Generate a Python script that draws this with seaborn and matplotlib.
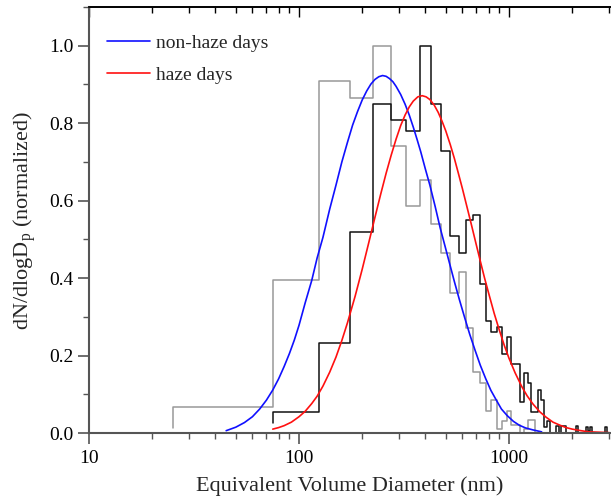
import numpy as np
import pandas as pd
import matplotlib
matplotlib.use("Agg")
import matplotlib.pyplot as plt
from matplotlib.ticker import MultipleLocator, FormatStrFormatter, LogLocator, NullFormatter
import seaborn as sns

# ---------------- data ----------------
bin_width = 50  # nm, linear bins
# non-haze days histogram (grey): bins start at 25 nm
nonhaze_start = 25
nonhaze_hist = [0.068, 0.394, 0.910, 0.866, 1.000, 0.742, 0.585, 0.652, 0.539, 0.464,
                0.361, 0.417, 0.270, 0.158, 0.128, 0.058, 0.085, 0.010, 0.030, 0.057,
                0.020, 0.020, 0.000, 0.010, 0.034, 0.034, 0.000, 0.000, 0.000, 0.000,
                0.000, 0.000, 0.000, 0.000, 0.000, 0.000, 0.000, 0.000, 0.000, 0.000,
                0.000, 0.000, 0.000, 0.000, 0.000, 0.000, 0.000, 0.000, 0.000, 0.000,
                0.000, 0.000, 0.000, 0.000, 0.000, 0.000, 0.000, 0.000, 0.000, 0.000]
nonhaze_stub = 0.013
# haze days histogram (black): bins start at 75 nm
haze_start = 75
haze_hist = [0.054, 0.233, 0.520, 0.849, 0.808, 0.781, 1.000, 0.849, 0.727, 0.509,
             0.466, 0.549, 0.562, 0.384, 0.288, 0.260, 0.275, 0.204, 0.249, 0.178,
             0.178, 0.081, 0.154, 0.129, 0.055, 0.055, 0.111, 0.085, 0.016, 0.032,
             0.000, 0.000, 0.017, 0.000, 0.017, 0.017, 0.000, 0.000, 0.000, 0.000,
             0.017, 0.000, 0.000, 0.000, 0.000, 0.015, 0.005, 0.015, 0.000, 0.000,
             0.000, 0.000, 0.000, 0.000, 0.000, 0.000, 0.015, 0.000, 0.000]
haze_stub = 0.027

# log-normal fit curves
nonhaze_fit_d = [45, 50, 55, 60, 65, 70, 75, 80, 85, 90, 95, 100, 107, 115, 122, 130,
                 140, 150, 160, 170, 180, 190, 200, 210, 220, 230, 240, 250, 260, 270,
                 280, 290, 305, 320, 335, 350, 365, 380, 400, 420, 445, 470, 495, 520,
                 550, 580, 615, 650, 690, 730, 775, 820, 870, 920, 980, 1050, 1120,
                 1200, 1300, 1430]
nonhaze_fit_v = [0.006, 0.015, 0.027, 0.042, 0.062, 0.085, 0.111, 0.140, 0.172, 0.205,
                 0.240, 0.278, 0.336, 0.394, 0.452, 0.505, 0.578, 0.640, 0.700, 0.750,
                 0.795, 0.830, 0.860, 0.883, 0.901, 0.913, 0.920, 0.923, 0.921, 0.915,
                 0.907, 0.895, 0.874, 0.849, 0.821, 0.790, 0.758, 0.726, 0.681, 0.640,
                 0.585, 0.530, 0.484, 0.440, 0.390, 0.345, 0.298, 0.255, 0.213, 0.175,
                 0.140, 0.110, 0.085, 0.062, 0.045, 0.030, 0.020, 0.013, 0.008, 0.003]
haze_fit_d = [75, 80, 85, 92, 100, 107, 115, 122, 130, 140, 150, 160, 170, 185, 200,
              215, 230, 245, 260, 275, 290, 305, 320, 335, 350, 368, 386, 403, 420,
              440, 460, 480, 500, 525, 550, 575, 600, 630, 660, 695, 730, 765, 800,
              850, 900, 950, 1000, 1070, 1150, 1220, 1300, 1400, 1500, 1620, 1750,
              1870, 2000, 2200, 2400, 2700, 3000]
haze_fit_v = [0.010, 0.014, 0.019, 0.028, 0.042, 0.056, 0.076, 0.095, 0.121, 0.157,
              0.196, 0.239, 0.284, 0.353, 0.423, 0.492, 0.557, 0.617, 0.671, 0.718,
              0.759, 0.794, 0.821, 0.842, 0.857, 0.868, 0.871, 0.868, 0.861, 0.847,
              0.828, 0.805, 0.780, 0.745, 0.708, 0.669, 0.631, 0.585, 0.541, 0.491,
              0.444, 0.400, 0.361, 0.309, 0.265, 0.226, 0.193, 0.155, 0.120, 0.096,
              0.075, 0.055, 0.041, 0.028, 0.020, 0.014, 0.010, 0.006, 0.003, 0.002,
              0.001]

legend_labels = ["non-haze days", "haze days"]
x_ticks = [10, 100, 1000]
y_ticks = [0.0, 0.2, 0.4, 0.6, 0.8, 1.0]


def step_frame(start, heights, stub):
    edges = [start + bin_width * i for i in range(len(heights) + 1)]
    xs = [edges[0]] + edges
    ys = [stub] + list(heights) + [heights[-1]]
    return pd.DataFrame({"d": xs, "v": ys})


# ---------------- style ----------------
sns.set_theme(style="ticks")
plt.rcParams["font.family"] = ["Liberation Serif", "DejaVu Serif"]
plt.rcParams["mathtext.fontset"] = "custom"
plt.rcParams["mathtext.rm"] = "Liberation Serif"
plt.rcParams["mathtext.it"] = "Liberation Serif:italic"

fig = plt.figure(figsize=(6.11, 5.04), dpi=100)
ax = fig.add_axes([89 / 611, 1 - 433 / 504, 522 / 611, 426 / 504])

grey_df = step_frame(nonhaze_start, nonhaze_hist, nonhaze_stub)
black_df = step_frame(haze_start, haze_hist, haze_stub)

sns.lineplot(data=grey_df, x="d", y="v", estimator=None, sort=False, ax=ax,
             color="#999999", lw=1.1, drawstyle="steps-post")
sns.lineplot(data=black_df, x="d", y="v", estimator=None, sort=False, ax=ax,
             color="#111111", lw=1.1, drawstyle="steps-post")

blue_df = pd.DataFrame({"d": nonhaze_fit_d, "v": nonhaze_fit_v})
red_df = pd.DataFrame({"d": haze_fit_d, "v": haze_fit_v})
sns.lineplot(data=blue_df, x="d", y="v", estimator=None, sort=False, ax=ax,
             color="#1010ff", lw=1.2, label=legend_labels[0])
sns.lineplot(data=red_df, x="d", y="v", estimator=None, sort=False, ax=ax,
             color="#ff1010", lw=1.2, label=legend_labels[1])

ax.set_xscale("log")
ax.set_xlim(10, 3060)
ax.set_ylim(0, 1.1)

ax.set_xticks(x_ticks)
ax.set_xticklabels([str(t) for t in x_ticks])
ax.xaxis.set_minor_locator(LogLocator(base=10, subs=np.arange(2, 10)))
ax.xaxis.set_minor_formatter(NullFormatter())
ax.set_yticks(y_ticks)
ax.yaxis.set_major_formatter(FormatStrFormatter("%.1f"))
ax.yaxis.set_minor_locator(MultipleLocator(0.1))

ax.tick_params(axis="both", which="major", direction="out", length=8, width=1.2,
               color="#555555", labelsize=14, pad=3, labelcolor="black")
ax.tick_params(axis="both", which="minor", direction="out", length=4, width=1.0,
               color="#555555")
ax.tick_params(axis="x", which="major", pad=4)

for s in ["left", "bottom"]:
    ax.spines[s].set_color("#555555")
    ax.spines[s].set_linewidth(1.5)
ax.spines["right"].set_visible(False)
ax.spines["top"].set_color("black")
ax.spines["top"].set_linewidth(1.2)

sec = ax.secondary_xaxis("top")
sec.set_xticks(x_ticks)
sec.xaxis.set_minor_locator(LogLocator(base=10, subs=np.arange(2, 10)))
sec.tick_params(axis="x", which="major", direction="in", length=7, width=1.0,
                labeltop=False, color="black")
sec.tick_params(axis="x", which="minor", direction="in", length=4, width=1.0,
                color="black")
sec.xaxis.set_minor_formatter(NullFormatter())
sec.spines["top"].set_color("black")
sec.spines["top"].set_linewidth(1.2)

ax.set_xlabel("Equivalent Volume Diameter (nm)", fontsize=16, labelpad=7)
ax.set_ylabel(r"dN/dlogD$_{\mathrm{p}}$ (normalized)", fontsize=16, labelpad=8)

leg = ax.legend(loc="upper left", bbox_to_anchor=(0.0345, 0.936), frameon=False,
                fontsize=14, handlelength=2.2, handletextpad=0.3, labelspacing=0.75,
                borderaxespad=0, borderpad=0)

fig.savefig("out.png", dpi=100)
